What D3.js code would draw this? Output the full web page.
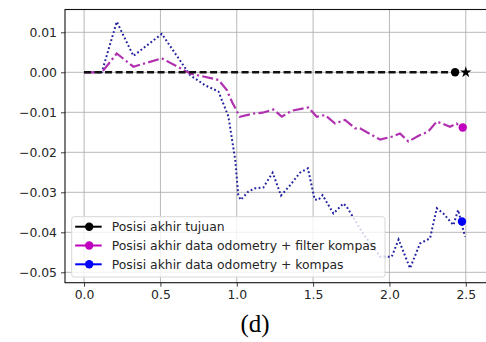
<!DOCTYPE html>
<html>
<head>
<meta charset="utf-8">
<script src="https://cdn.jsdelivr.net/npm/d3@7"></script>
<style>
  body { margin: 0; background: #fff; }
  svg { display: block; }
  text { font-family: "DejaVu Sans", sans-serif; fill: #262626; }
</style>
</head>
<body>
<svg id="chart"></svg>
<script>
// data
const xTicks = [0.0, 0.5, 1.0, 1.5, 2.0, 2.5];
const yTicks = [0.01, 0.00, -0.01, -0.02, -0.03, -0.04, -0.05];

const targetX = [0.0, 2.43];
const targetY = [0.0, 0.0];
const targetStar = [2.5, 0.0];

const filterX = [0.0, 0.116, 0.214, 0.323, 0.509, 0.694, 0.88, 0.934, 0.97, 1.02, 1.11, 1.17, 1.24, 1.295, 1.36, 1.469, 1.524, 1.578, 1.644, 1.709, 1.775, 1.807, 1.938, 2.015, 2.069, 2.124, 2.2, 2.255, 2.31, 2.397, 2.44, 2.484];
const filterY = [0.0, 0.0, 0.0047, 0.0014, 0.0035, -0.0003, -0.0019, -0.0044, -0.0075, -0.0111, -0.0103, -0.0101, -0.0093, -0.0111, -0.0096, -0.0088, -0.0111, -0.0107, -0.0128, -0.0119, -0.014, -0.014, -0.0168, -0.0161, -0.0153, -0.0173, -0.0157, -0.0148, -0.0123, -0.0136, -0.0128, -0.0144];

const kompasX = [0.0, 0.116, 0.214, 0.323, 0.509, 0.694, 0.79, 0.88, 0.945, 0.99, 1.01, 1.026, 1.076, 1.12, 1.174, 1.235, 1.29, 1.35, 1.414, 1.466, 1.51, 1.535, 1.562, 1.633, 1.698, 1.72, 1.83, 1.94, 2.015, 2.06, 2.135, 2.2, 2.266, 2.31, 2.353, 2.419, 2.45, 2.495];
const kompasY = [0.0, 0.0, 0.01265, 0.0041, 0.0096, -0.0007, -0.0032, -0.0048, -0.011, -0.0219, -0.0307, -0.0319, -0.0298, -0.029, -0.0288, -0.0251, -0.0308, -0.0282, -0.0251, -0.024, -0.0318, -0.0319, -0.0307, -0.0353, -0.0328, -0.0336, -0.0405, -0.0461, -0.0461, -0.0418, -0.049, -0.0428, -0.0415, -0.034, -0.0353, -0.0382, -0.0344, -0.0411];

const filterEnd = [2.48, -0.0138];
const kompasEnd = [2.475, -0.0373];

const legendLabels = ["Posisi akhir tujuan", "Posisi akhir data odometry + filter kompas", "Posisi akhir data odometry + kompas"];
const legendColors = ["#000000", "#bf00bf", "#0000ff"];

const width = 486, height = 342;
// the source image is cut just past the right spine, so the frame runs off the edge
const margin = { top: 9.5, right: -1, bottom: 59.3, left: 65 };

const svg = d3.select("#chart").attr("width", width).attr("height", height);

const x = d3.scaleLinear().domain([-0.125, 2.639]).range([margin.left, width - margin.right]);
const y = d3.scaleLinear().domain([-0.0526, 0.0157]).range([height - margin.bottom, margin.top]);

// grid
svg.append("g").selectAll("line").data(xTicks).join("line")
    .attr("x1", d => x(d)).attr("x2", d => x(d))
    .attr("y1", y.range()[1]).attr("y2", y.range()[0])
    .attr("stroke", "#b0b0b0").attr("stroke-width", 0.9);
svg.append("g").selectAll("line").data(yTicks).join("line")
    .attr("y1", d => y(d)).attr("y2", d => y(d))
    .attr("x1", x.range()[0]).attr("x2", x.range()[1])
    .attr("stroke", "#b0b0b0").attr("stroke-width", 0.9);

// axes
const xAxis = svg.append("g")
    .attr("transform", `translate(0,${y.range()[0]})`)
    .call(d3.axisBottom(x).tickValues(xTicks).tickFormat(d3.format(".1f")).tickSizeInner(4).tickSizeOuter(0).tickPadding(4));
const yAxis = svg.append("g")
    .attr("transform", `translate(${x.range()[0]},0)`)
    .call(d3.axisLeft(y).tickValues(yTicks).tickFormat(d => d3.format(".2f")(d).replace("-", "\u2212")).tickSizeInner(4).tickSizeOuter(0).tickPadding(4));
[xAxis, yAxis].forEach(a => {
    a.select(".domain").remove();
    a.selectAll(".tick line").attr("stroke", "#262626").attr("stroke-width", 0.9);
    a.selectAll(".tick text").attr("font-size", "12.4px").attr("fill", "#262626")
        .style("font-family", "'DejaVu Sans', sans-serif");
});

// lines
const line = d3.line().x(d => x(d[0])).y(d => y(d[1]));
const zip = (a, b) => a.map((v, i) => [v, b[i]]);

svg.append("path").datum(zip(kompasX, kompasY))
    .attr("d", line).attr("fill", "none")
    .attr("stroke", "#2020a0").attr("stroke-width", 2)
    .attr("stroke-dasharray", "1.8,2.4");

svg.append("path").datum(zip(filterX, filterY))
    .attr("d", line).attr("fill", "none")
    .attr("stroke", "#b030b0").attr("stroke-width", 2.2)
    .attr("stroke-dasharray", "11,3.2,2.2,3.2");

svg.append("path").datum(zip(targetX, targetY))
    .attr("d", line).attr("fill", "none")
    .attr("stroke", "#111").attr("stroke-width", 2.5)
    .attr("stroke-dasharray", "7,3.5");

// end markers
svg.append("circle").attr("cx", x(targetX[1])).attr("cy", y(targetY[1])).attr("r", 4.2).attr("fill", "#000");
svg.append("path")
    .attr("d", d3.symbol(d3.symbolStar, 40)())
    .attr("transform", `translate(${x(targetStar[0])},${y(targetStar[1])})`)
    .attr("fill", "#000");
svg.append("circle").attr("cx", x(filterEnd[0])).attr("cy", y(filterEnd[1])).attr("r", 4.2).attr("fill", "#bf00bf");
svg.append("circle").attr("cx", x(kompasEnd[0])).attr("cy", y(kompasEnd[1])).attr("r", 4.2).attr("fill", "#0000ff");

// frame
svg.append("rect")
    .attr("x", x.range()[0]).attr("y", y.range()[1])
    .attr("width", x.range()[1] - x.range()[0]).attr("height", y.range()[0] - y.range()[1])
    .attr("fill", "none").attr("stroke", "#111").attr("stroke-width", 1.1);

// legend
const legend = svg.append("g").attr("transform", "translate(71.7,216.7)");
legend.append("rect")
    .attr("width", 313.3).attr("height", 60.3).attr("rx", 2.5)
    .attr("fill", "#fff").attr("fill-opacity", 0.8)
    .attr("stroke", "#d8d8d8").attr("stroke-width", 1);
const rows = legend.selectAll("g.row").data(legendLabels).join("g")
    .attr("class", "row")
    .attr("transform", (d, i) => `translate(0,${10 + i * 18.8})`);
rows.append("line")
    .attr("x1", 3.5).attr("x2", 30)
    .attr("stroke", (d, i) => legendColors[i]).attr("stroke-width", 2);
rows.append("circle")
    .attr("cx", 17.5).attr("r", 4.2)
    .attr("fill", (d, i) => legendColors[i]);
rows.append("text")
    .attr("x", 40).attr("dy", "0.35em")
    .attr("font-size", "12.4px")
    .text(d => d);

// caption
svg.append("text")
    .attr("x", 255).attr("y", 332)
    .attr("text-anchor", "middle")
    .style("font-family", "'Liberation Serif', 'Times New Roman', serif")
    .style("fill", "#000")
    .attr("font-size", "25px")
    .text("(d)");
</script>
</body>
</html>
